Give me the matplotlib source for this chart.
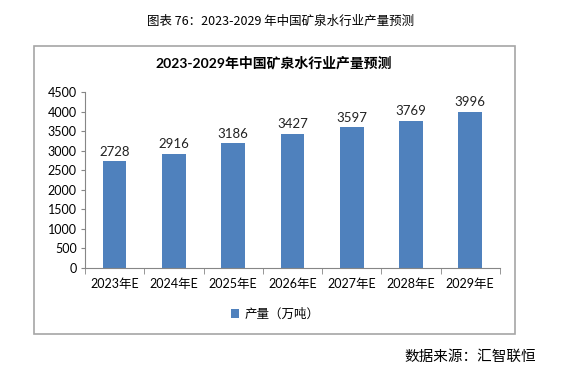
import matplotlib.pyplot as plt
from matplotlib.patches import Rectangle

plt.rcParams['font.family'] = ['Lato', 'Noto Sans CJK SC', 'DejaVu Sans']

# data
years = ['2023年E', '2024年E', '2025年E', '2026年E', '2027年E', '2028年E', '2029年E']
output = [2728, 2916, 3186, 3427, 3597, 3769, 3996]
series_name = '产量（万吨）'

fig = plt.figure(figsize=(5.61, 3.83), dpi=100)

# grey frame round the chart
fig.patches.append(Rectangle((0.0606, 0.128), 0.857, 0.752, transform=fig.transFigure,
                             fill=False, edgecolor='#a6a6a6', linewidth=1.2))

ax = fig.add_axes([0.1515, 0.3003, 0.7395, 0.4595])
pos = list(range(len(years)))
bars = ax.bar(pos, output, width=0.4, color='#4f81bd', label=series_name)
for p, v in zip(pos, output):
    ax.text(p, v + 90, str(v), ha='center', va='bottom', fontsize=9.5, color='#222222')

ax.set_xlim(-0.5, len(years) - 0.5)
ax.set_ylim(0, 4500)
ax.set_yticks(range(0, 4501, 500))
ax.tick_params(axis='y', labelsize=9, length=3, color='#868686', pad=3)
ax.set_xticks(pos)
ax.set_xticklabels(years, fontsize=9)
ax.tick_params(axis='x', length=0, pad=7)
ax.set_xticks([p - 0.5 for p in pos] + [len(years) - 0.5], minor=True)
ax.tick_params(axis='x', which='minor', length=4, color='#868686')
for s in ['top', 'right']:
    ax.spines[s].set_visible(False)
for s in ['left', 'bottom']:
    ax.spines[s].set_color('#868686')

fig.text(0.5, 0.945, '图表 76：2023-2029 年中国矿泉水行业产量预测', ha='center', va='center',
         fontsize=9, family=['Noto Sans CJK SC'])
fig.text(0.487, 0.835, '2023-2029年中国矿泉水行业产量预测', ha='center', va='center',
         fontsize=10, fontweight='bold')
ax.legend(loc='center', bbox_to_anchor=(0.49, 0.18), bbox_transform=fig.transFigure,
          frameon=False, fontsize=9, handlelength=0.7, handleheight=0.7, handletextpad=0.4)
fig.text(0.955, 0.068, '数据来源：汇智联恒', ha='right', va='center', fontsize=10.5,
         family=['Noto Sans CJK SC'])

plt.savefig('out.png', dpi=100)
